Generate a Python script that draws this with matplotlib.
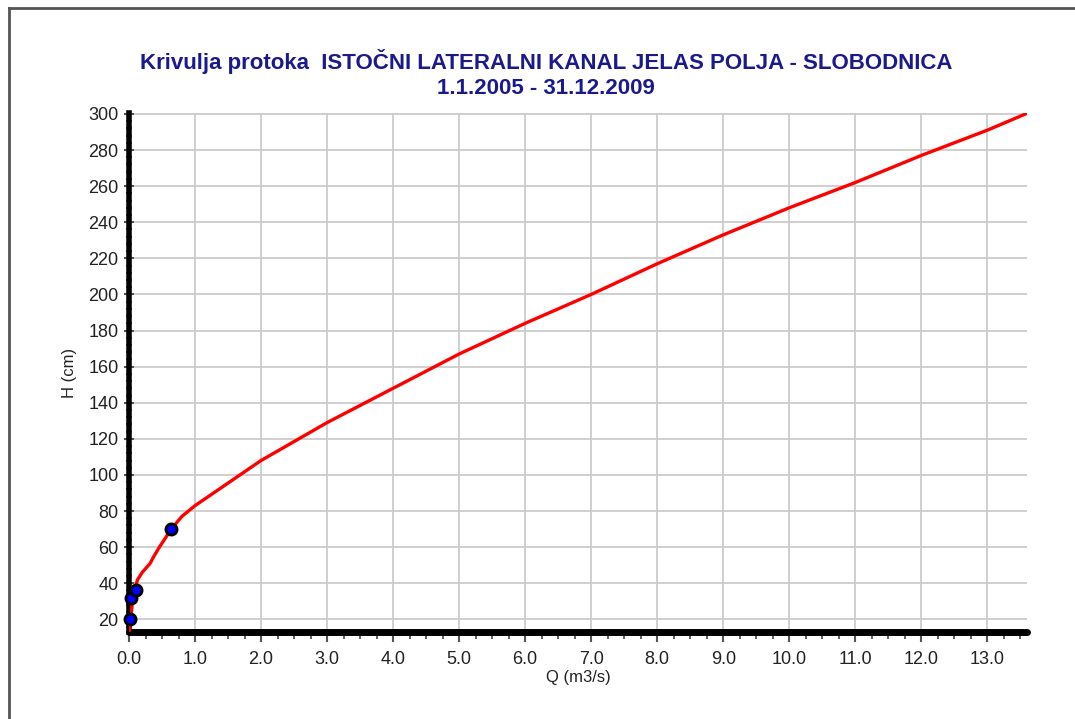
import matplotlib.pyplot as plt
import numpy as np
from matplotlib.lines import Line2D
from matplotlib.ticker import MultipleLocator, FormatStrFormatter

plt.rcParams['font.family'] = ['Liberation Sans', 'DejaVu Sans']

# rating curve Q(H)
q_curve = [0.0, 0.02, 0.03, 0.05, 0.07, 0.13, 0.2, 0.32, 0.37, 0.46, 0.64,
           0.8, 1.0, 1.56, 2.0, 3.0, 4.0, 5.0, 6.0, 7.0, 8.0, 9.0, 10.0,
           11.0, 12.0, 13.0, 13.58]
h_curve = [13, 17, 22, 29, 35, 42, 46, 51, 54.5, 60, 70,
           77, 83, 97, 108, 129, 148, 167, 184, 200, 217, 233, 248,
           262, 277, 291, 300]

# measured points
q_meas = [0.02, 0.03, 0.1, 0.64]
h_meas = [20, 32, 36, 70]

title = "Krivulja protoka  ISTOČNI LATERALNI KANAL JELAS POLJA - SLOBODNICA\n1.1.2005 - 31.12.2009"

fig = plt.figure(figsize=(10.75, 7.19), dpi=100)
ax = fig.add_axes([129/1075, 1 - 632/719, (1027 - 129)/1075, (632 - 113)/719])

ax.plot(q_curve, h_curve, '-', color='#ff0000', lw=2.4, zorder=3)
ax.plot(q_meas, h_meas, 'o', ms=8, mfc='#0000ff', mec='black', mew=2, zorder=4,
        clip_on=False)

ax.set_xlim(0, 13.6)
ax.set_ylim(13, 300.5)

ax.xaxis.set_major_locator(MultipleLocator(1.0))
ax.xaxis.set_minor_locator(MultipleLocator(0.25))
ax.xaxis.set_major_formatter(FormatStrFormatter('%.1f'))
ax.set_yticks(np.arange(20, 301, 20))
ax.yaxis.set_minor_locator(MultipleLocator(4))

ax.grid(which='major', color='#cccccc', lw=1.3, zorder=0)
ax.set_axisbelow(True)

for s in ['top', 'right']:
    ax.spines[s].set_visible(False)
ax.spines['left'].set_linewidth(4)
ax.spines['bottom'].set_linewidth(5)
ax.spines['bottom'].set_capstyle('round')

ax.tick_params(which='major', direction='out', length=7, width=1.5,
               color='#555555', labelsize=13, labelcolor='#222222', pad=4)
ax.tick_params(which='minor', direction='out', length=5, width=1.3,
               color='#555555')
ax.tick_params(axis='y', which='both', direction='inout')
ax.tick_params(axis='x', which='major', pad=7)

ax.set_xlabel("Q (m3/s)", fontsize=12, color='#222222', labelpad=1)
ax.set_ylabel("H (cm)", fontsize=12, color='#222222', labelpad=8)

fig.text(546/1075, 1 - 74/719, title, ha='center', va='center',
         fontsize=16, fontweight='bold', color='#1a1a8c', linespacing=1.3)

# page frame (top and left edges)
fig.add_artist(Line2D([9/1075, 1], [1 - 8/719, 1 - 8/719], color='#555555', lw=2))
fig.add_artist(Line2D([9/1075, 9/1075], [0, 1 - 8/719], color='#555555', lw=2))

fig.savefig("out.png", dpi=100)
